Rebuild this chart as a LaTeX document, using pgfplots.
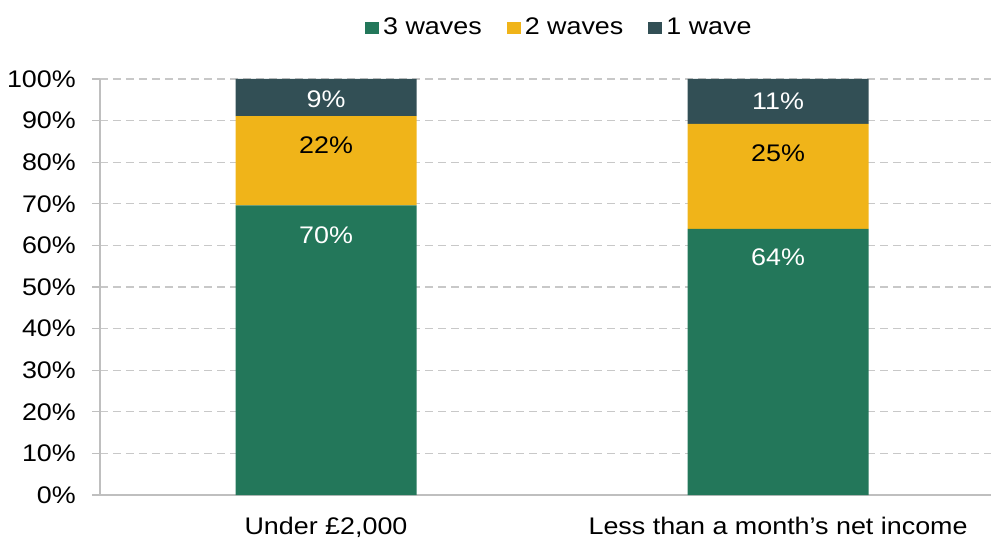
\documentclass[border=0pt]{standalone}
\usepackage{pgfplots}
\pgfplotsset{compat=1.18}
\usepackage{fontspec}
\setmainfont{Liberation Sans}[FakeStretch=1.12]
\definecolor{cgreen}{HTML}{23775A}
\definecolor{cyellow}{HTML}{F0B419}
\definecolor{cdark}{HTML}{324F55}
\definecolor{cgrid}{HTML}{C8C8C8}
\definecolor{caxis}{HTML}{BFBFBF}
\begin{document}
\fontsize{24bp}{28bp}\selectfont
\begin{tikzpicture}
\begin{axis}[
  at={(0,0)}, anchor=south west,
  scale only axis, width=891bp, height=416bp,
  ybar stacked, bar width=181bp,
  xmin=-0.5, xmax=1.471, ymin=0, ymax=100,
  axis x line*=bottom, axis y line*=left,
  axis line style={draw=caxis, line width=1.3bp, -},
  xtick={0,1}, xticklabels={{Under £2,000}, {Less than a month’s net income}},
  x tick style={draw=none},
  extra x ticks={-0.5,0.5}, extra x tick labels={},
  extra x tick style={tick style={draw=caxis, line width=1.3bp}, grid=none},
  tick align=outside, major tick length=8bp,
  ytick={0,10,...,100},
  yticklabel={\pgfmathprintnumber{\tick}\%},
  y tick style={draw=caxis, line width=1.3bp},
  ymajorgrids, grid style={draw=cgrid, dash pattern=on 8bp off 5bp, line width=1.3bp},
  tick label style={font=\fontsize{24bp}{28bp}\selectfont, text=black},
  xticklabel style={yshift=-6bp},
  yticklabel style={xshift=-8bp},
  /pgf/number format/assume math mode=true,
  legend style={at={(0.515,1.123)}, anchor=center, draw=none, fill=none,
    legend columns=3, font=\fontsize{24bp}{28bp}\selectfont,
    /tikz/every odd column/.append style={column sep=3bp},
    /tikz/every even column/.append style={column sep=24bp},
    nodes={inner sep=1bp}},
  legend cell align=left,
  legend image code/.code={\fill[#1] (0bp,-6.3bp) rectangle (14bp,6.3bp);},
]
\addplot[fill=cgreen, draw=none] coordinates {(0,69.6) (1,64.0)};
\addplot[fill=cyellow, draw=none] coordinates {(0,21.5) (1,25.2)};
\addplot[fill=cdark, draw=none] coordinates {(0,8.9) (1,10.8)};
\legend{3 waves,2 waves,1 wave}
\coordinate (a1) at (axis cs:0,62.5);
\coordinate (a2) at (axis cs:0,84.1);
\coordinate (a3) at (axis cs:0,95.2);
\coordinate (b1) at (axis cs:1,57.2);
\coordinate (b2) at (axis cs:1,82.2);
\coordinate (b3) at (axis cs:1,94.7);
\end{axis}
\node[text=white] at (a1) {70\%};
\node[text=black] at (a2) {22\%};
\node[text=white] at (a3) {9\%};
\node[text=white] at (b1) {64\%};
\node[text=black] at (b2) {25\%};
\node[text=white] at (b3) {11\%};
\pgfresetboundingbox
\useasboundingbox (-100bp,-43bp) rectangle (891bp,495bp);
\end{tikzpicture}
\end{document}
